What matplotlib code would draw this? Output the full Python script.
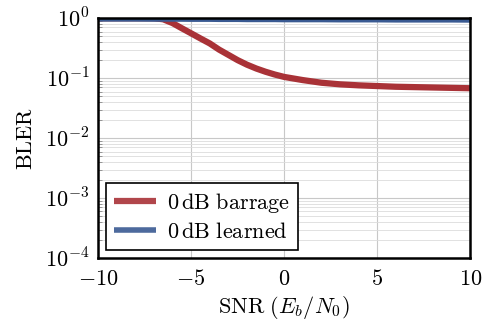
import numpy as np
import matplotlib
matplotlib.use("Agg")
import matplotlib.pyplot as plt

# datos
snr = [-10, -9, -8, -7, -6.5, -6, -5.5, -5, -4.5, -4, -3.5, -3, -2.5, -2, -1.5, -1, -0.5, 0,
       1, 2, 3, 4, 5, 6, 7, 8, 9, 10]
bler_barrage = [1.0, 1.0, 1.0, 1.0, 0.96, 0.83, 0.68, 0.56, 0.46, 0.38, 0.30, 0.245, 0.20,
                0.168, 0.145, 0.128, 0.115, 0.105,
                0.093, 0.084, 0.079, 0.076, 0.074, 0.072, 0.071, 0.070, 0.069, 0.068]
bler_learned = [0.975, 0.975, 0.975, 0.97, 0.97, 0.97, 0.97, 0.965, 0.965, 0.965, 0.96, 0.96,
                0.96, 0.955, 0.955, 0.955, 0.955, 0.95,
                0.95, 0.95, 0.945, 0.945, 0.945, 0.94, 0.94, 0.94, 0.94, 0.935]

plt.rcParams["mathtext.fontset"] = "cm"
plt.rcParams["font.family"] = "serif"
plt.rcParams["font.serif"] = ["DejaVu Serif"]

rojo = "#a93237"
azul = "#3a5a92"

fig = plt.figure(figsize=(4.9, 3.31), dpi=100)
ax = fig.add_axes([0.2, 0.22, 0.76, 0.725])

ax.plot(snr, bler_barrage, color=rojo, lw=4.5, label=r"$\mathrm{0\,dB\ barrage}$",
        solid_capstyle="butt")
ax.plot(snr, bler_learned, color=azul, lw=4.0, label=r"$\mathrm{0\,dB\ learned}$",
        solid_capstyle="butt")

ax.set_yscale("log")
ax.set_xlim(-10, 10)
ax.set_ylim(1e-4, 1)
ax.set_xticks([-10, -5, 0, 5, 10])
ax.set_xticklabels([r"$-10$", r"$-5$", r"$0$", r"$5$", r"$10$"])
ax.set_yticks([1e-4, 1e-3, 1e-2, 1e-1, 1])
ax.set_yticklabels([r"$10^{-4}$", r"$10^{-3}$", r"$10^{-2}$", r"$10^{-1}$", r"$10^{0}$"])

ax.grid(True, which="major", color="#c8c8c8", lw=0.8)
ax.grid(True, which="minor", axis="y", color="#dcdcdc", lw=0.6)
ax.tick_params(which="both", direction="in", labelsize=16, length=3, color="#888888")
ax.tick_params(axis="x", length=0, pad=7)
ax.tick_params(axis="y", which="major", length=0, pad=6)

for s in ax.spines.values():
    s.set_linewidth(1.8)

ax.set_xlabel(r"$\mathrm{SNR}\ (E_b/N_0)$", fontsize=16, labelpad=3)
ax.set_ylabel(r"$\mathrm{BLER}$", fontsize=16, labelpad=6)

leg = ax.legend(loc="lower left", fontsize=16, fancybox=False, framealpha=1,
                edgecolor="black", handlelength=1.9, handletextpad=0.5, borderpad=0.35,
                labelspacing=0.25, borderaxespad=0.35)
leg.get_frame().set_linewidth(1.2)
for h in leg.get_lines():
    h.set_alpha(0.9)

fig.savefig("out.png", dpi=100)
